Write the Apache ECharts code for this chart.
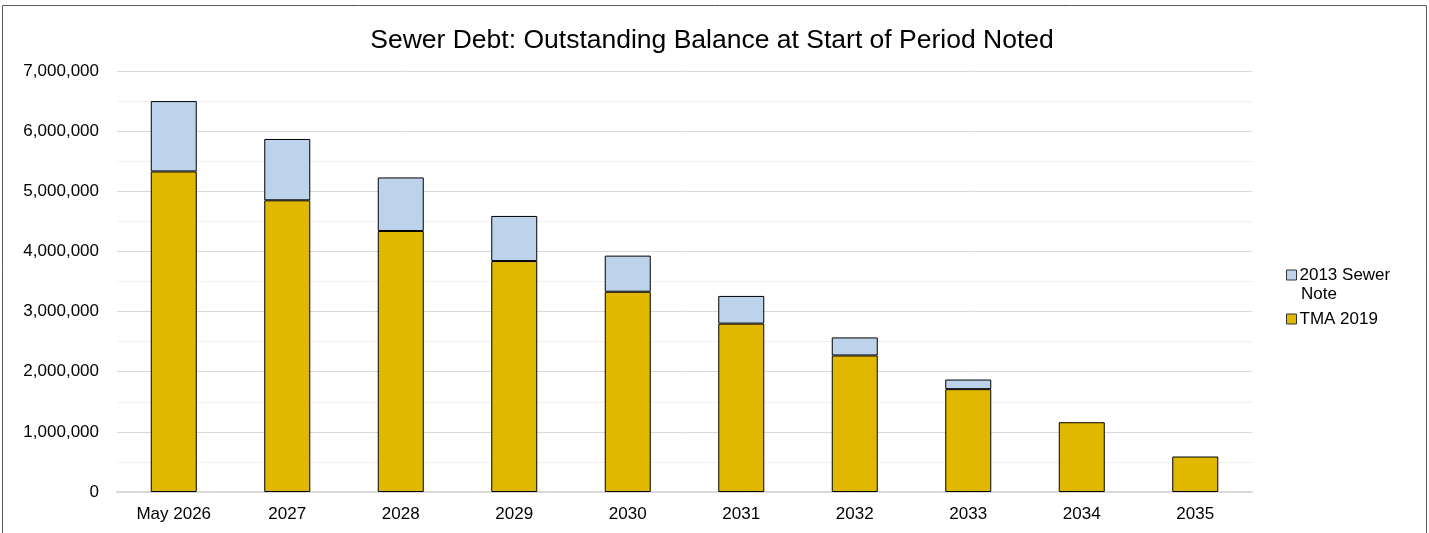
<!DOCTYPE html>
<html>
<head>
<meta charset="utf-8">
<script src="https://cdn.jsdelivr.net/npm/echarts@6/dist/echarts.min.js"></script>
<style>
html,body{margin:0;padding:0;background:#fff;}
#c{width:1429px;height:533px;}
</style>
</head>
<body>
<div id="c"></div>
<script>
const categories = ['May 2026','2027','2028','2029','2030','2031','2032','2033','2034','2035'];
const tma2019 = [5330000,4850000,4340000,3840000,3330000,2800000,2270000,1710000,1160000,590000];
const sewerNote2013 = [1170000,1020000,890000,750000,600000,460000,300000,160000,0,0];
const seriesNames = ['TMA 2019','2013 Sewer Note'];

const chart = echarts.init(document.getElementById('c'));
const fontFam = '"Liberation Sans", Arial, sans-serif';
chart.setOption({
  animation:false,
  title:{text:'Sewer Debt: Outstanding Balance at Start of Period Noted',left:707,top:22,textAlign:'center',
    textStyle:{fontFamily:fontFam,fontSize:26.5,fontWeight:'normal',color:'#000'}},
  grid:{left:117,right:177,top:71,bottom:41},
  legend:{orient:'vertical',left:1281,top:260,itemWidth:10,itemHeight:10,itemGap:24,
    data:['2013 Sewer Note','TMA 2019'],
    icon:'rect',
    formatter:function(n){return n==='2013 Sewer Note'?'2013 Sewer':n;},
    textStyle:{fontFamily:fontFam,fontSize:17,color:'#000',lineHeight:20,padding:[0,0,0,-2]},
    itemStyle:{borderColor:'#333',borderWidth:1}
  },
  xAxis:{type:'category',data:categories,
    axisLine:{lineStyle:{color:'#d9d9d9',width:2}},axisTick:{show:false},
    axisLabel:{fontFamily:fontFam,fontSize:17,color:'#000',margin:14}},
  yAxis:{type:'value',min:0,max:7000000,interval:1000000,
    axisLabel:{fontFamily:fontFam,fontSize:17,color:'#000',margin:18,
      formatter:function(v){return v.toLocaleString('en-US');}},
    splitLine:{lineStyle:{color:'#d9d9d9',width:1}},
    minorTick:{show:false,splitNumber:2},
    minorSplitLine:{show:true,lineStyle:{color:'#f0f0f0',width:1}}},
  series:[
    {name:seriesNames[0],type:'bar',stack:'a',data:tma2019,barWidth:46,
      itemStyle:{color:'#e1b800',borderColor:'#000',borderWidth:1}},
    {name:seriesNames[1],type:'bar',stack:'a',data:sewerNote2013.map(v=>v===0?null:v),barWidth:46,
      itemStyle:{color:'#bdd3eb',borderColor:'#000',borderWidth:1}}
  ],
  graphic:[
    {type:'rect',shape:{x:2.5,y:5.5,width:1424,height:540},style:{fill:'none',stroke:'#595959',lineWidth:1},silent:true},
    {type:'text',left:1301,top:286,style:{text:'Note',font:'17px "Liberation Sans", Arial, sans-serif',fill:'#000'},silent:true}
  ]
});
</script>
</body>
</html>
